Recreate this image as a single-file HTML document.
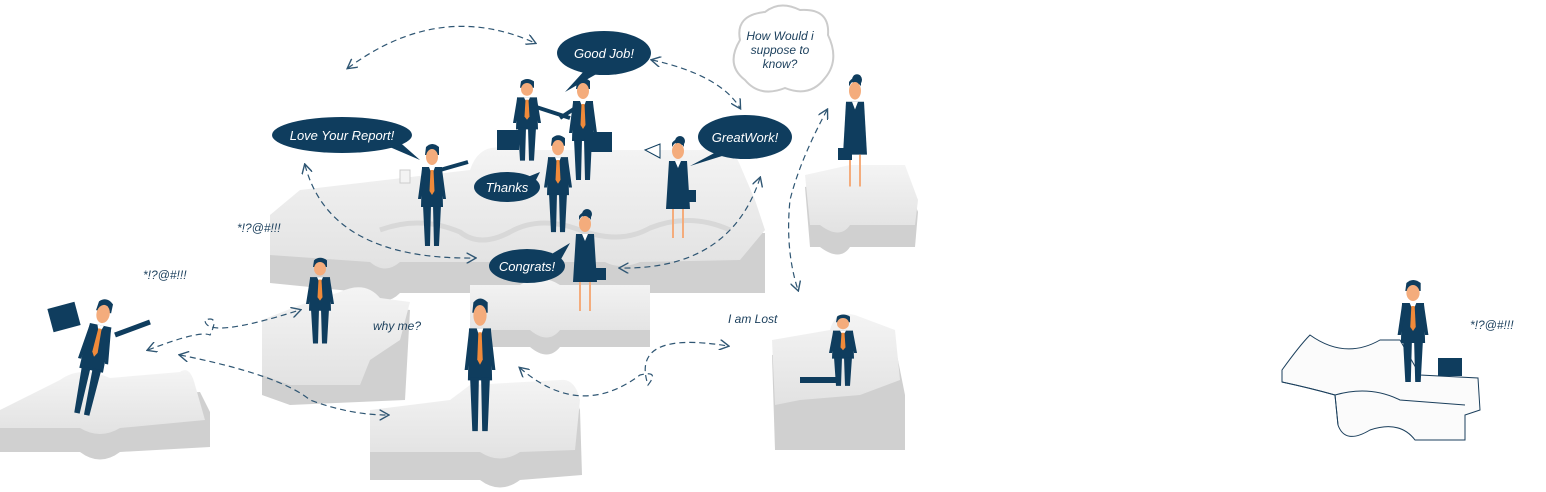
<!DOCTYPE html>
<html><head><meta charset="utf-8"><style>
html,body{margin:0;padding:0;background:#fff;}
svg{display:block}
.t{font-family:"Liberation Sans",sans-serif;font-style:italic;fill:#fff;font-size:13px;text-anchor:middle}
.d{font-family:"Liberation Sans",sans-serif;font-style:italic;fill:#1b3f5c;font-size:12px}
.a{fill:none;stroke:#2f5673;stroke-width:1.2;stroke-dasharray:6 4}
</style></head><body>
<svg width="1546" height="492" viewBox="0 0 1546 492" xmlns="http://www.w3.org/2000/svg">
<defs>
<linearGradient id="g" x1="0" y1="0" x2="0" y2="1"><stop offset="0" stop-color="#f4f4f4"/><stop offset="1" stop-color="#e2e2e2"/></linearGradient>
<marker id="m" viewBox="0 0 10 10" refX="8" refY="5" markerWidth="9" markerHeight="9" orient="auto-start-reverse"><path d="M0,0 L9,5 L0,10" fill="none" stroke="#2f5673" stroke-width="1.3"/></marker>
<g id="p">
<path d="M-6,-2 Q0,-8 7,-2 L7,6 L-7,6Z" fill="#0f3d5e"/>
<ellipse cx="0" cy="8" rx="6" ry="8" fill="#f4ac7c"/>
<path d="M-10,18 L10,18 L11,58 L-11,58Z" fill="#0f3d5e"/>
<path d="M-3,18 L3,18 L0,26Z" fill="#fff"/>
<path d="M-1.5,21 L1.5,21 L2.5,42 L0,46 L-2.5,42Z" fill="#f08a3a"/>
<path d="M-10,20 L-14,50 L-11,50 L-7,24Z M10,20 L14,50 L11,50 L7,24Z" fill="#0f3d5e"/>
<path d="M-9,56 L-1,56 L-2,97 L-7,97Z M1,56 L9,56 L7,97 L2,97Z" fill="#0f3d5e"/>
</g>
<g id="w">
<circle cx="2" cy="-2" r="5" fill="#0f3d5e"/>
<ellipse cx="0" cy="8" rx="6" ry="8" fill="#f4ac7c"/>
<path d="M-6,4 Q0,-6 6,4 L6,0 Q0,-8 -6,0Z" fill="#0f3d5e"/>
<path d="M-9,18 L9,18 L12,66 L-12,66Z" fill="#0f3d5e"/>
<path d="M-3,18 L3,18 L0,25Z" fill="#fff"/>
<path d="M-6,66 L-4,66 L-4,95 L-6,95Z M4,66 L6,66 L6,95 L4,95Z" fill="#f4ac7c"/>
</g>
</defs>

<g>
<path d="M270,215 L470,215 Q480,195 500,215 L765,215 L765,275 L640,275 Q625,285 610,275 L400,275 Q385,290 370,275 L270,265Z" fill="#d0d0d0" transform="translate(0,18)"/>
<path d="M270,215 L300,190 L470,170 Q480,140 510,150 L700,150 Q730,140 740,165 L755,200 L765,230 L740,260 L640,262 Q620,270 605,262 L400,262 Q385,275 370,262 L270,255Z" fill="url(#g)"/>
<path d="M380,230 Q420,215 460,232 Q480,248 510,232 Q540,215 580,230 Q620,245 650,228 Q690,212 730,230" fill="none" stroke="#d8d8d8" stroke-width="5"/>
<path d="M470,280 L650,280 L650,335 L560,335 Q548,350 530,335 L470,335Z" fill="#d0d0d0" transform="translate(0,12)"/>
<path d="M470,285 L520,285 Q540,272 560,285 L650,285 L650,330 L560,330 Q548,345 530,330 L470,330Z" fill="url(#g)"/>
<path d="M0,400 L60,385 Q80,370 110,385 L200,380 L210,400 L210,435 L120,440 Q100,455 80,440 L0,440Z" fill="#d0d0d0" transform="translate(0,12)"/>
<path d="M0,410 L60,380 Q80,365 110,378 L180,372 Q190,365 195,385 L205,420 L120,428 Q100,440 80,428 L0,428Z" fill="url(#g)"/>
<path d="M262,310 L300,300 L340,290 Q365,278 380,296 L410,300 L405,390 L290,395 L262,385Z" fill="#d0d0d0" transform="translate(0,10)"/>
<path d="M262,320 L300,305 L340,292 Q365,280 380,298 L410,302 L400,340 L370,360 L360,385 L290,385 L262,375Z" fill="url(#g)"/>
<path d="M370,410 L450,400 L470,385 L560,380 Q575,378 580,395 L582,460 L520,465 Q500,480 480,465 L370,465Z" fill="#d0d0d0" transform="translate(0,15)"/>
<path d="M370,410 L450,400 L470,385 L560,380 Q575,378 580,400 L575,450 L520,452 Q500,465 480,452 L370,452Z" fill="url(#g)"/>
<path d="M772,340 L830,330 Q835,310 855,315 L895,330 L905,380 L905,435 L775,435Z" fill="#d0d0d0" transform="translate(0,15)"/>
<path d="M772,340 L830,330 Q835,310 855,315 L895,330 L900,380 L860,395 L800,400 L775,405Z" fill="url(#g)"/>
<path d="M805,175 L850,165 L905,165 L918,200 L915,235 L850,235 Q840,250 820,235 L810,235Z" fill="#d0d0d0" transform="translate(0,12)"/>
<path d="M805,175 L850,165 L905,165 L918,200 L915,225 L850,225 Q840,240 820,225 L810,225Z" fill="url(#g)"/>
<path d="M1282,370 Q1300,345 1310,335 Q1345,360 1380,340 L1400,340 L1420,375 L1478,378 L1480,410 L1465,415 L1465,440 L1415,440 Q1400,420 1370,430 Q1345,445 1338,425 L1335,395 Q1310,388 1282,382Z" fill="#fbfbfb" stroke="#1b3f5c" stroke-width="1"/>
<path d="M1282,382 Q1310,388 1335,395 Q1370,385 1400,400 L1465,405 M1338,425 L1335,395" fill="none" stroke="#1b3f5c" stroke-width="1"/>
</g>

<path class="a" d="M348,68 Q440,0 535,43" marker-start="url(#m)" marker-end="url(#m)"/>
<path class="a" d="M652,60 Q720,75 740,108" marker-start="url(#m)" marker-end="url(#m)"/>
<path class="a" d="M305,165 Q330,260 475,258" marker-start="url(#m)" marker-end="url(#m)"/>
<path class="a" d="M760,178 Q730,270 620,268" marker-start="url(#m)" marker-end="url(#m)"/>
<path class="a" d="M827,110 Q800,160 790,200 Q785,250 798,290" marker-start="url(#m)" marker-end="url(#m)"/>
<path class="a" d="M148,350 Q200,330 210,335 Q220,315 205,320 Q205,340 300,310" marker-start="url(#m)" marker-end="url(#m)"/>
<path class="a" d="M180,355 Q280,375 310,400 Q350,415 388,415" marker-start="url(#m)" marker-end="url(#m)"/>
<path class="a" d="M520,368 Q580,420 640,375 Q660,370 648,385 Q630,330 728,346" marker-start="url(#m)" marker-end="url(#m)"/>

<path d="M585,70 L565,92 L600,72Z" fill="#0f3d5e"/><ellipse cx="604" cy="53" rx="47" ry="22" fill="#0f3d5e"/><text class="t" x="604" y="58">Good Job!</text>
<path d="M385,145 L420,160 L395,138Z" fill="#0f3d5e"/><ellipse cx="342" cy="135" rx="70" ry="18" fill="#0f3d5e"/><text class="t" x="342" y="140">Love Your Report!</text>
<path d="M720,150 L690,166 L735,152Z" fill="#0f3d5e"/><ellipse cx="745" cy="137" rx="47" ry="22" fill="#0f3d5e"/><text class="t" x="745" y="142">GreatWork!</text>
<path d="M525,178 L540,172 L530,192Z" fill="#0f3d5e"/><ellipse cx="507" cy="187" rx="33" ry="15" fill="#0f3d5e"/><text class="t" x="507" y="192">Thanks</text>
<path d="M550,255 L570,243 L555,270Z" fill="#0f3d5e"/><ellipse cx="527" cy="266" rx="38" ry="17" fill="#0f3d5e"/><text class="t" x="527" y="271">Congrats!</text>
<path d="M740,40 Q735,15 765,12 Q780,0 800,10 Q830,8 828,35 Q840,60 825,78 Q810,98 785,88 Q760,98 745,80 Q725,65 740,40Z" fill="#fff" stroke="#ccc" stroke-width="2"/>
<text class="d" x="780" y="40" text-anchor="middle" font-size="11">How Would i</text>
<text class="d" x="780" y="54" text-anchor="middle" font-size="11">suppose to</text>
<text class="d" x="780" y="68" text-anchor="middle" font-size="11">know?</text>

<text class="d" x="237" y="232">*!?@#!!!</text>
<text class="d" x="143" y="279">*!?@#!!!</text>
<text class="d" x="1470" y="329">*!?@#!!!</text>
<text class="d" x="373" y="330">why me?</text>
<text class="d" x="728" y="323">I am Lost</text>

<use href="#p" transform="translate(432,149)"/>
<rect x="400" y="170" width="10" height="13" fill="#f3f3f3" stroke="#ccc"/>
<path d="M440,170 L468,162" stroke="#0f3d5e" stroke-width="4"/>
<use href="#p" transform="translate(527,83) scale(1,0.8)"/>
<use href="#p" transform="translate(583,83)"/>
<path d="M530,105 L570,118 M580,105 L560,118" stroke="#0f3d5e" stroke-width="4"/>
<rect x="497" y="130" width="22" height="20" fill="#0f3d5e"/>
<rect x="590" y="132" width="22" height="20" fill="#0f3d5e"/>
<use href="#p" transform="translate(558,140) scale(1,0.95)"/>
<use href="#w" transform="translate(678,143)"/>
<path d="M645,150 L660,144 L660,158Z" fill="#fff" stroke="#0f3d5e"/>
<rect x="682" y="190" width="14" height="12" fill="#0f3d5e"/>
<use href="#w" transform="translate(585,216)"/>
<rect x="592" y="268" width="14" height="12" fill="#0f3d5e"/>
<use href="#w" transform="translate(855,82) scale(1,1.1)"/>
<rect x="838" y="148" width="14" height="12" fill="#0f3d5e"/>
<use href="#p" transform="translate(320,262) scale(1,0.84)"/>
<use href="#p" transform="translate(480,305) scale(1.1,1.3)"/>
<use href="#p" transform="translate(105,305) rotate(12) scale(1.1,1.15)"/>
<rect x="50" y="305" width="28" height="24" fill="#0f3d5e" transform="rotate(-15 64 317)"/>
<path d="M115,335 L150,322" stroke="#0f3d5e" stroke-width="5"/>
<use href="#p" transform="translate(843,318) scale(1,0.7)"/>
<path d="M800,380 L840,380" stroke="#0f3d5e" stroke-width="6"/>
<use href="#p" transform="translate(1413,285) scale(1.1,1)"/>
<rect x="1438" y="358" width="24" height="18" fill="#0f3d5e"/>
</svg>
</body></html>
